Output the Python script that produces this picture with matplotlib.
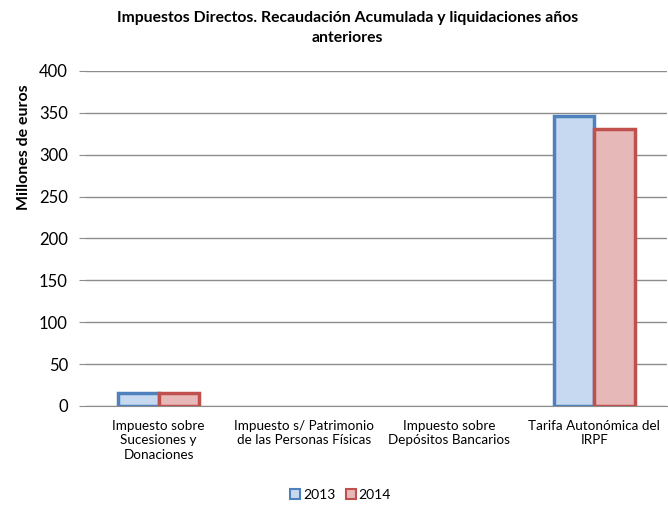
import matplotlib.pyplot as plt
import numpy as np

plt.rcParams['font.family'] = ['Lato', 'DejaVu Sans']

categorias = ['Impuesto sobre\nSucesiones y\nDonaciones',
              'Impuesto s/ Patrimonio\nde las Personas Físicas',
              'Impuesto sobre\nDepósitos Bancarios',
              'Tarifa Autonómica del\nIRPF']
valores_2013 = [15.5, 0, 0, 346]
valores_2014 = [15.5, 0, 0, 331]
series = ['2013', '2014']

fig = plt.figure(figsize=(6.68, 5.07), dpi=100)
ax = fig.add_axes([86/668, 1 - 406/507, 581/668, 335/507])

x = np.arange(len(categorias))
w = 0.28
b1 = ax.bar(x - w/2, valores_2013, w, color='#C6D9F1', edgecolor='#4F81BD', linewidth=2.5,
            label=series[0], zorder=3)
b2 = ax.bar(x + w/2, valores_2014, w, color='#E6B9B8', edgecolor='#C0504D', linewidth=2.5,
            label=series[1], zorder=3)
# sin borde para las barras vacías
for barras in (b1, b2):
    for r in barras:
        if r.get_height() == 0:
            r.set_linewidth(0)

ax.set_xlim(-0.5, len(categorias) - 0.5)
ax.set_ylim(0, 400)
ax.set_yticks(range(0, 401, 50))
ax.yaxis.grid(True, color='#8C8C8C', linewidth=1)
ax.set_axisbelow(True)
for s in ['top', 'right', 'left']:
    ax.spines[s].set_visible(False)
ax.spines['bottom'].set_color('#8C8C8C')
ax.tick_params(axis='y', length=5, color='#8C8C8C', labelsize=12, pad=8)
ax.tick_params(axis='x', length=0, labelsize=9.7, pad=10)
ax.set_xticks(x)
ax.set_xticklabels(categorias, linespacing=1.25)

ax.set_ylabel('Millones de euros', fontsize=11.5, fontweight='bold', labelpad=6)
ax.yaxis.set_label_coords(-0.094, (406 - 147) / 335)

fig.suptitle('Impuestos Directos. Recaudación Acumulada y liquidaciones años\nanteriores',
             x=0.52, y=0.978, fontsize=11.3, fontweight='bold', linespacing=1.55)

leg = fig.legend(loc='center', bbox_to_anchor=(0.51, 1 - 495/507), ncol=2, frameon=False,
                 fontsize=10, handlelength=0.7, handleheight=0.7, handletextpad=0.2,
                 columnspacing=0.8)
for h in leg.legend_handles:
    h.set_linewidth(1.5)

fig.savefig('out.png', dpi=100)
